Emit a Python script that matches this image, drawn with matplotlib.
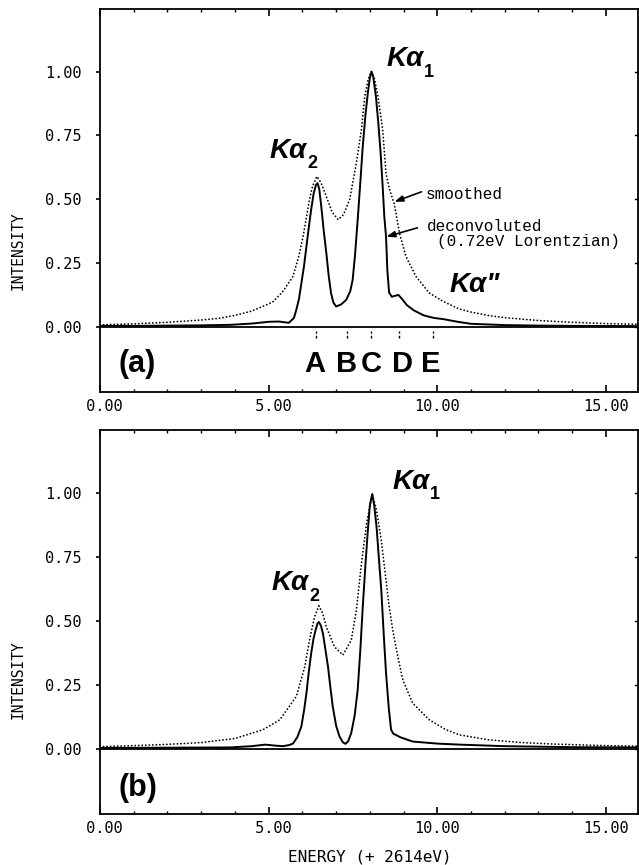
import matplotlib
matplotlib.use("Agg")
import matplotlib.pyplot as plt
from matplotlib.ticker import MultipleLocator, FormatStrFormatter
from matplotlib.transforms import blended_transform_factory

# ---------------- data ----------------
smooth_a_x = [0.0, 1.0, 2.0, 3.0, 3.5, 4.0, 4.5, 5.0, 5.13, 5.4, 5.72, 5.9, 6.02, 6.12, 6.21, 6.3,
              6.43, 6.55, 6.71, 6.88, 7.06, 7.22, 7.4, 7.5, 7.6, 7.75, 7.85, 7.95, 8.04, 8.14,
              8.24, 8.38, 8.48, 8.58, 8.73, 8.88, 9.07, 9.37, 9.76, 10.17, 10.65, 11.0, 11.5,
              12.0, 13.0, 14.0, 15.0, 16.0]
smooth_a_y = [0.008, 0.012, 0.018, 0.027, 0.033, 0.045, 0.062, 0.09, 0.099, 0.135, 0.197, 0.28,
              0.354, 0.43, 0.498, 0.55, 0.589, 0.565, 0.511, 0.45, 0.42, 0.44, 0.498, 0.57,
              0.642, 0.773, 0.903, 0.97, 1.0, 0.97, 0.903, 0.773, 0.60, 0.54, 0.478, 0.367,
              0.276, 0.197, 0.133, 0.100, 0.07, 0.058, 0.045, 0.036, 0.025, 0.018, 0.013, 0.01]

deconv_a_x = [0.0, 1.0, 2.0, 3.0, 3.85, 4.5, 5.0, 5.3, 5.6, 5.75, 5.82, 5.9, 5.97, 6.05, 6.12,
              6.2, 6.26, 6.33, 6.4, 6.45, 6.5, 6.56, 6.63, 6.71, 6.78, 6.85, 6.92, 7.0, 7.15,
              7.3, 7.42, 7.49, 7.56, 7.64, 7.72, 7.79, 7.87, 7.94, 8.0, 8.05, 8.1, 8.18, 8.25,
              8.32, 8.38, 8.43, 8.48, 8.52, 8.57, 8.65, 8.75, 8.85, 8.95, 9.1, 9.3, 9.6, 9.9,
              10.2, 10.6, 11.0, 12.0, 13.0, 14.0, 16.0]
deconv_a_y = [0.004, 0.004, 0.005, 0.006, 0.008, 0.013, 0.02, 0.021, 0.016, 0.035, 0.067, 0.11,
              0.171, 0.24, 0.315, 0.40, 0.459, 0.52, 0.555, 0.563, 0.54, 0.472, 0.38, 0.289,
              0.20, 0.132, 0.095, 0.080, 0.088, 0.106, 0.14, 0.184, 0.28, 0.42, 0.57, 0.707,
              0.83, 0.916, 0.975, 1.0, 0.98, 0.903, 0.80, 0.681, 0.55, 0.43, 0.354, 0.22, 0.135,
              0.118, 0.122, 0.125, 0.11, 0.085, 0.065, 0.045, 0.035, 0.03, 0.02, 0.012, 0.007,
              0.005, 0.004, 0.003]

smooth_b_x = [0.0, 1.0, 2.0, 3.0, 4.0, 4.83, 5.33, 5.82, 6.07, 6.21, 6.36, 6.49, 6.6, 6.71, 6.95,
              7.2, 7.45, 7.6, 7.75, 7.9, 8.07, 8.2, 8.34, 8.48, 8.56, 8.68, 8.83, 8.98, 9.27,
              9.76, 10.26, 10.66, 11.5, 12.5, 13.5, 15.0, 16.0]
smooth_b_y = [0.008, 0.012, 0.017, 0.024, 0.04, 0.074, 0.113, 0.204, 0.32, 0.424, 0.515, 0.558,
              0.53, 0.476, 0.398, 0.366, 0.424, 0.541, 0.722, 0.878, 0.995, 0.93, 0.813, 0.658,
              0.567, 0.463, 0.359, 0.268, 0.178, 0.113, 0.074, 0.054, 0.035, 0.024, 0.018,
              0.012, 0.01]

deconv_b_x = [0.0, 2.0, 3.85, 4.5, 4.9, 5.2, 5.43, 5.6, 5.72, 5.85, 5.97, 6.05, 6.12, 6.19, 6.26,
              6.33, 6.39, 6.45, 6.49, 6.55, 6.61, 6.68, 6.76, 6.83, 6.9, 7.0, 7.1, 7.2, 7.28,
              7.36, 7.45, 7.55, 7.64, 7.72, 7.79, 7.87, 7.94, 8.0, 8.07, 8.13, 8.2, 8.27, 8.34,
              8.41, 8.48, 8.56, 8.63, 8.7, 8.77, 8.9, 9.27, 10.0, 10.66, 12.0, 14.0, 16.0]
deconv_b_y = [0.003, 0.004, 0.005, 0.01, 0.016, 0.012, 0.01, 0.014, 0.02, 0.045, 0.087, 0.15,
              0.217, 0.30, 0.372, 0.43, 0.463, 0.49, 0.495, 0.48, 0.45, 0.39, 0.32, 0.24, 0.165,
              0.09, 0.048, 0.025, 0.019, 0.03, 0.062, 0.13, 0.23, 0.39, 0.554, 0.72, 0.852, 0.95,
              0.995, 0.95, 0.865, 0.74, 0.619, 0.45, 0.296, 0.16, 0.074, 0.058, 0.054, 0.045,
              0.028, 0.02, 0.016, 0.01, 0.006, 0.005]

marker_pos = [6.40, 7.31, 8.02, 8.87, 9.88]
marker_letters = ["A", "B", "C", "D", "E"]
letter_pos = [6.37, 7.30, 8.05, 8.97, 9.82]

yticks = [0.0, 0.25, 0.5, 0.75, 1.0]

# ---------------- figure ----------------
W, H = 639, 865
fig = plt.figure(figsize=(W / 100, H / 100), dpi=100)
mono = "DejaVu Sans Mono"
bold = "Liberation Sans"

def px_axes(left, top, right, bottom):
    return fig.add_axes([left / W, 1 - bottom / H, (right - left) / W, (bottom - top) / H])

ax_a = px_axes(100, 9, 638, 392)
ax_b = px_axes(100, 430, 638, 814)

def style(ax):
    ax.set_xlim(0, 15.95)
    ax.set_ylim(-0.255, 1.245)
    ax.xaxis.set_major_locator(MultipleLocator(5))
    ax.xaxis.set_minor_locator(MultipleLocator(1))
    ax.xaxis.set_major_formatter(FormatStrFormatter("%5.2f"))
    ax.set_yticks(yticks)
    ax.yaxis.set_major_formatter(FormatStrFormatter("%.2f"))
    ax.tick_params(axis="x", which="major", direction="in", length=5, width=1.2,
                   top=True, bottom=True, labelsize=11, pad=5)
    ax.tick_params(axis="x", which="minor", direction="in", length=2.5, width=1.0,
                   top=True, bottom=True)
    ax.tick_params(axis="y", which="major", direction="out", length=3, width=1.2,
                   left=True, right=False, labelsize=11, pad=10)
    for lab in ax.get_xticklabels() + ax.get_yticklabels():
        lab.set_fontfamily(mono)
    for sp in ax.spines.values():
        sp.set_linewidth(1.3)
    ax.axhline(0, color="black", lw=1.3, zorder=1)
    # right-hand inward ticks
    for yv in yticks:
        ax.plot([15.95 - 0.09, 15.95], [yv, yv], color="black", lw=1.0, clip_on=False)

style(ax_a)
style(ax_b)

dot_style = dict(color="black", lw=1.3, linestyle=(0, (0.05, 1.9)), dash_capstyle="round")
sol_style = dict(color="black", lw=1.4, solid_joinstyle="round")

ax_a.plot(smooth_a_x, smooth_a_y, **dot_style)
ax_a.plot(deconv_a_x, deconv_a_y, **sol_style)
ax_b.plot(smooth_b_x, smooth_b_y, **dot_style)
ax_b.plot(deconv_b_x, deconv_b_y, **sol_style)

# Kα labels
def kalpha(ax, x, y, sub, size=20):
    t = ax.text(x, y, "Kα", fontsize=size, fontweight="bold", fontstyle="italic",
                family=bold, ha="left", va="baseline")
    if sub:
        ax.annotate(sub, xy=(1.0, 0.0), xycoords=t, fontsize=13, fontweight="bold",
                    family=bold, ha="left", va="center")
    return t

kalpha(ax_a, 8.49, 1.02, "1")
kalpha(ax_a, 5.03, 0.663, "2")
ax_a.text(10.36, 0.137, "Kα\"", fontsize=20, fontweight="bold", fontstyle="italic",
          family=bold, ha="left", va="baseline")
kalpha(ax_b, 8.67, 1.016, "1")
kalpha(ax_b, 5.09, 0.619, "2")

# annotations
mono2 = "Liberation Mono"
ax_a.text(9.67, 0.518, "smoothed", family=mono2, fontsize=11.5, va="center", ha="left")
ax_a.text(9.70, 0.392, "deconvoluted", family=mono2, fontsize=11.5, va="center", ha="left")
ax_a.text(10.0, 0.333, "(0.72eV Lorentzian)", family=mono2, fontsize=11.5,
          va="center", ha="left")
arrow = dict(arrowstyle="-|>,head_length=0.5,head_width=0.18", color="black", lw=1.2,
             shrinkA=0, shrinkB=0)
ax_a.annotate("", xy=(8.73, 0.490), xytext=(9.53, 0.529), arrowprops=arrow)
ax_a.annotate("", xy=(8.49, 0.353), xytext=(9.41, 0.388), arrowprops=arrow)

# A–E markers
ax_a.vlines(marker_pos, -0.045, -0.015, color="black", lw=1.0, linestyles=(0, (2, 1.5)))
for xp, L in zip(letter_pos, marker_letters):
    ax_a.text(xp, -0.175, L, fontsize=21, fontweight="bold", family=bold,
              ha="center", va="baseline")

# panel tags
ax_a.text(0.55, -0.175, "(a)", fontsize=22, fontweight="bold", family=bold, ha="left", va="baseline")
ax_b.text(0.55, -0.185, "(b)", fontsize=22, fontweight="bold", family=bold, ha="left", va="baseline")

# axis labels
for ax, yc in ((ax_a, 0.30), (ax_b, 0.27)):
    tr = blended_transform_factory(fig.transFigure, ax.transData)
    ax.text(18 / W, yc, "INTENSITY", transform=tr, rotation=90, family=mono, fontsize=10.5,
            ha="center", va="center")

fig.text(370 / W, 1 - 857 / H, "ENERGY (+ 2614eV)", family=mono, fontsize=11.5,
         ha="center", va="center")

fig.savefig("out.png", dpi=100)
